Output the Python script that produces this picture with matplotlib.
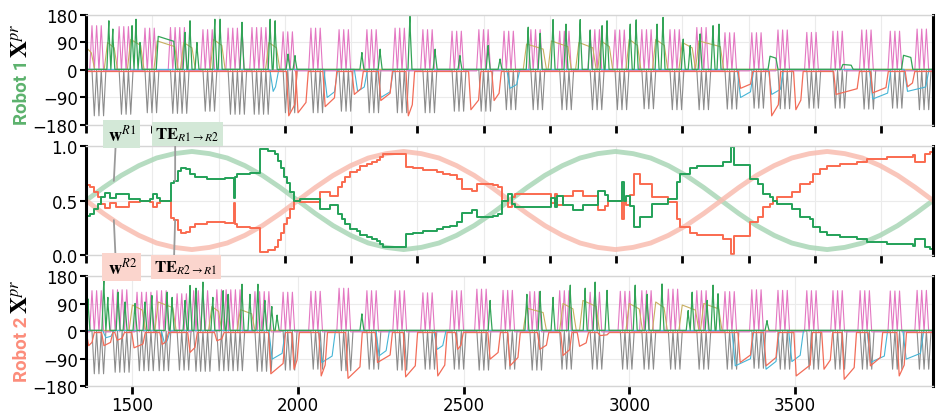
import numpy as np
import matplotlib
matplotlib.use('Agg')
import matplotlib.pyplot as plt

plt.rcParams['mathtext.fontset'] = 'stix'
plt.rcParams['font.family'] = ['DejaVu Sans']

X0, X1 = 1360, 3917
PK = 14  # spacing of the gait peaks inside one burst

# ---- Robot 1 (top panel) ----
r1_burst = [1378, 1460, 1538, 1615, 1713, 1789, 1861, 1955, 2039, 2124, 2208, 2293, 2377, 2465, 2546, 2622,
            2703, 2790, 2882, 2957, 3038, 3123, 3204, 3289, 3370, 3449, 3536, 3615, 3702, 3788, 3869]
r1_npk = [3, 3, 3, 4, 3, 4, 4, 3, 3, 3, 3, 3, 3, 3, 3, 3, 3, 3, 3, 3, 3, 3, 3, 3, 3, 3, 3, 3, 3, 3, 3]
r1_pink = [148, 145, 140, 142, 135, 140, 142, 128, 140, 135, 135, 140, 135, 130, 135, 130,
           135, 130, 135, 134, 135, 135, 142, 125, 125, 134, 126, 130, 134, 130, 137]
r1_grey = [150, 145, 140, 142, 135, 145, 145, 140, 140, 135, 140, 140, 140, 135, 135, 130,
           130, 130, 130, 130, 127, 130, 130, 128, 125, 127, 125, 125, 128, 125, 130]
r1_green_x0 = [1429, 1441, 1499, 1511, 1523, 1578, 1659, 1674, 1695, 1749, 1765, 1831, 1916, 1931, 1970, 1991,
               2193, 2248, 2338, 2414, 2489, 2574, 2610, 2695, 2731, 2770, 2809, 2852, 2882, 2918, 2933,
               3003, 3021, 3084, 3102, 3163, 3184, 3214, 3253, 3271, 3425, 3645, 3828]
r1_green_x1 = [1429, 1441, 1499, 1511, 1523, 1625, 1659, 1674, 1695, 1749, 1765, 1831, 1916, 1931, 1970, 1991,
               2193, 2248, 2338, 2414, 2489, 2574, 2610, 2695, 2731, 2770, 2809, 2852, 2882, 2918, 2933,
               3003, 3021, 3084, 3102, 3163, 3184, 3214, 3253, 3271, 3443, 3670, 3850]
r1_green_h = [161, 134, 145, 166, 90, 110, 123, 161, 90, 166, 166, 156, 166, 161, 52, 47,
              57, 68, 178, 68, 47, 80, 36, 140, 120, 165, 150, 165, 130, 145, 161,
              150, 164, 150, 172, 101, 80, 118, 145, 150, 45, 18, 48]
r1_tan_x0 = [1364, 1425, 1495, 1575, 1655, 1745, 1912, 2690, 2765, 2848, 2915, 3000, 3080, 3160, 3210]
r1_tan_x1 = [1376, 1445, 1525, 1628, 1680, 1770, 1935, 2740, 2815, 2890, 2940, 3025, 3106, 3190, 3275]
r1_tan_h = [70, 90, 100, 95, 90, 100, 90, 85, 95, 90, 95, 100, 100, 90, 95]
r1_red_x0 = [1972, 2000, 2082, 2170, 2250, 2333, 2522, 2592, 3336, 3430, 3503, 3624, 3735, 3840]
r1_red_x1 = [1990, 2024, 2110, 2190, 2278, 2345, 2545, 2607, 3366, 3450, 3518, 3688, 3775, 3855]
r1_red_d = [-150, -140, -120, -80, -100, -150, -130, -100, -60, -150, -130, -80, -75, -55]
r1_cyan_x0 = [1925, 2088, 2180, 2250, 2640, 3336, 3430, 3735, 3840]
r1_cyan_x1 = [1932, 2110, 2200, 2278, 2660, 3366, 3456, 3780, 3895]
r1_cyan_d = [-70, -90, -70, -90, -60, -90, -80, -95, -70]

# ---- Robot 2 (bottom panel) ----
r2_burst = [1378, 1441, 1514, 1574, 1635, 1685, 1755, 1870, 1955, 2039, 2124, 2208, 2293, 2377, 2465, 2540,
            2619, 2700, 2790, 2882, 2973, 3038, 3118, 3204, 3289, 3370, 3449, 3536, 3615, 3697, 3788, 3869]
r2_npk = [3, 4, 4, 3, 3, 4, 6, 4, 3, 3, 3, 3, 3, 3, 3, 3, 3, 3, 3, 3, 3, 3, 3, 3, 3, 3, 3, 3, 3, 3, 3, 3]
r2_pink = [135, 138, 130, 135, 125, 135, 138, 132, 130, 133, 143, 135, 135, 128, 135, 140,
           136, 132, 135, 130, 133, 135, 140, 135, 132, 138, 136, 135, 135, 135, 134, 136]
r2_grey = [140, 135, 130, 130, 128, 132, 130, 132, 128, 125, 130, 125, 128, 125, 125, 128,
           125, 128, 125, 125, 125, 125, 125, 125, 125, 122, 125, 125, 125, 125, 125, 125]
r2_green_x = [1366, 1414, 1426, 1457, 1478, 1508, 1538, 1559, 1605, 1620, 1659, 1674, 1692, 1713, 1743,
              1774, 1789, 1831, 1855, 1879, 1900, 1921, 1937, 2193, 2580, 2691, 2731, 2770, 2822, 2867,
              2897, 2933, 3018, 3054, 3099, 3178, 3190, 3235, 3253, 3268, 3416]
r2_green_h = [105, 171, 110, 127, 95, 90, 95, 116, 127, 110, 100, 149, 140, 160, 110,
              132, 120, 153, 120, 153, 100, 80, 52, 56, 100, 120, 130, 110, 150, 140,
              160, 133, 150, 120, 154, 67, 127, 100, 150, 122, 34]
r2_tan_x0 = [1500, 1578, 1740, 1826, 2690, 2800, 2860, 3000, 3080, 3160, 3225]
r2_tan_x1 = [1530, 1622, 1760, 1860, 2740, 2830, 2900, 3030, 3105, 3200, 3270]
r2_tan_h = [85, 95, 80, 70, 75, 90, 100, 90, 95, 85, 90]
r2_red_x0 = [1368, 1414, 1454, 1505, 1590, 1674, 1755, 1918, 1988, 2070, 2151, 2240, 2325, 2422, 2482, 2580,
             2640, 2730, 2800, 2850, 2912, 3335, 3413, 3504, 3588, 3649, 3728, 3815]
r2_red_x1 = [1378, 1434, 1469, 1532, 1602, 1689, 1770, 1955, 1997, 2082, 2187, 2278, 2354, 2443, 2492, 2604,
             2664, 2750, 2820, 2870, 2933, 3366, 3443, 3546, 3607, 3679, 3758, 3830]
r2_red_d = [-48, -48, -30, -55, -44, -70, -32, -140, -125, -147, -155, -103, -150, -147, -60, -92,
            -114, -60, -80, -50, -15, -103, -114, -147, -125, -158, -114, -147]
r2_cyan_x0 = [1420, 1597, 1922, 2072, 2245, 2420, 3320, 3413, 3491, 3728, 3836]
r2_cyan_x1 = [1435, 1605, 1952, 2103, 2266, 2437, 3366, 3443, 3516, 3770, 3879]
r2_cyan_d = [-22, -40, -92, -103, -81, -60, -114, -125, -100, -103, -92]

# ---- middle panel: weights (sampled) and transfer entropy steps ----
w_r1 = [0.50, 0.62, 0.73, 0.82, 0.89, 0.93, 0.95, 0.93, 0.89, 0.82, 0.73, 0.62, 0.50, 0.38, 0.27, 0.18, 0.11,
        0.07, 0.05, 0.07, 0.11, 0.18, 0.27, 0.38, 0.50, 0.62, 0.73, 0.82, 0.89, 0.93, 0.95, 0.93, 0.89, 0.82,
        0.73, 0.62, 0.50, 0.38, 0.27, 0.18, 0.11, 0.07, 0.05, 0.07, 0.11, 0.18, 0.27, 0.38, 0.50]
w_r2 = [0.50, 0.38, 0.27, 0.18, 0.11, 0.07, 0.05, 0.07, 0.11, 0.18, 0.27, 0.38, 0.50, 0.62, 0.73, 0.82, 0.89,
        0.93, 0.95, 0.93, 0.89, 0.82, 0.73, 0.62, 0.50, 0.38, 0.27, 0.18, 0.11, 0.07, 0.05, 0.07, 0.11, 0.18,
        0.27, 0.38, 0.50, 0.62, 0.73, 0.82, 0.89, 0.93, 0.95, 0.93, 0.89, 0.82, 0.73, 0.62, 0.50]
te_x = [1360, 1372, 1384, 1396, 1405, 1417, 1432, 1451, 1490, 1523, 1553, 1562, 1574, 1583, 1617, 1626, 1638,
        1647, 1662, 1674, 1689, 1725, 1746, 1780, 1807, 1810, 1816, 1855, 1885, 1909, 1931, 1940, 1949, 1958,
        1967, 1976, 1988, 2006, 2067, 2097, 2121, 2133, 2142, 2157, 2178, 2187, 2209, 2224, 2239, 2248, 2257,
        2326, 2347, 2377, 2419, 2438, 2459, 2480, 2495, 2526, 2540, 2589, 2604, 2616, 2634, 2646, 2655, 2752,
        2764, 2776, 2782, 2800, 2830, 2861, 2906, 2927, 2936, 2973, 2979, 2985, 2991, 3003, 3015, 3033, 3069,
        3118, 3145, 3154, 3184, 3205, 3284, 3308, 3317, 3365, 3389, 3404, 3425, 3434, 3446, 3491, 3516, 3546,
        3555, 3577, 3598, 3637, 3688, 3718, 3779, 3857, 3863, 3887, 3893, 3908]
te_r1r2 = [0.36, 0.38, 0.42, 0.47, 0.53, 0.57, 0.52, 0.56, 0.51, 0.50, 0.51, 0.56, 0.52, 0.50, 0.66, 0.68, 0.77,
           0.80, 0.79, 0.74, 0.72, 0.70, 0.70, 0.71, 0.52, 0.72, 0.74, 0.75, 0.97, 0.95, 0.93, 0.86, 0.80, 0.72,
           0.66, 0.58, 0.50, 0.51, 0.42, 0.46, 0.38, 0.33, 0.28, 0.24, 0.22, 0.18, 0.165, 0.15, 0.13, 0.10, 0.07,
           0.19, 0.20, 0.22, 0.24, 0.26, 0.27, 0.30, 0.39, 0.41, 0.345, 0.36, 0.38, 0.50, 0.56, 0.47, 0.44, 0.44,
           0.52, 0.44, 0.54, 0.46, 0.41, 0.46, 0.59, 0.55, 0.50, 0.50, 0.67, 0.50, 0.54, 0.45, 0.26, 0.345, 0.47,
           0.51, 0.67, 0.74, 0.80, 0.82, 0.85, 0.99, 0.83, 0.70, 0.65, 0.56, 0.53, 0.50, 0.47, 0.42, 0.345, 0.33,
           0.26, 0.21, 0.18, 0.165, 0.147, 0.12, 0.10, 0.08, 0.15, 0.15, 0.07, 0.055]
te_r2r1 = [0.64, 0.62, 0.58, 0.53, 0.47, 0.43, 0.48, 0.44, 0.49, 0.50, 0.49, 0.44, 0.48, 0.50, 0.34, 0.32, 0.23,
           0.20, 0.21, 0.26, 0.28, 0.30, 0.30, 0.29, 0.48, 0.28, 0.26, 0.25, 0.03, 0.05, 0.07, 0.14, 0.20, 0.28,
           0.34, 0.42, 0.50, 0.49, 0.58, 0.54, 0.62, 0.67, 0.72, 0.76, 0.78, 0.82, 0.835, 0.85, 0.87, 0.90, 0.93,
           0.81, 0.80, 0.78, 0.76, 0.74, 0.73, 0.70, 0.61, 0.59, 0.655, 0.64, 0.62, 0.50, 0.44, 0.53, 0.56, 0.56,
           0.48, 0.56, 0.46, 0.54, 0.59, 0.54, 0.41, 0.45, 0.50, 0.50, 0.33, 0.50, 0.46, 0.55, 0.74, 0.655, 0.53,
           0.49, 0.33, 0.26, 0.20, 0.18, 0.15, 0.01, 0.17, 0.30, 0.35, 0.44, 0.47, 0.50, 0.53, 0.58, 0.655, 0.67,
           0.74, 0.79, 0.82, 0.835, 0.853, 0.88, 0.90, 0.92, 0.85, 0.85, 0.93, 0.945]

C_PINK, C_GREY, C_GREEN = '#e377c2', '#8c8c8c', '#33a457'
C_TAN, C_CYAN, C_RED = '#c8ae5e', '#45b5d6', '#f26c58'
C_TE_G, C_TE_R = '#23a158', '#fa6a4f'
C_R1, C_R2 = '#5cb26d', '#fc8d7b'


def osc_line(starts, npk, amp, sign, phase, base=0.0):
    xs, ys = [X0], [base]
    for s, n, a in zip(starts, npk, amp):
        for k in range(n):
            c = s + phase + PK * k
            xs += [c - PK / 2, c, c + PK / 2]
            ys += [base, base + sign * a, base]
    xs.append(X1)
    ys.append(base)
    return xs, ys


def bump_line(x0s, x1s, hs, base, ramp=6, sag=1.0):
    # a bump rises over `ramp`, holds (sagging a little) and falls back to base
    xs, ys = [X0], [base]
    for a, b, h in zip(x0s, x1s, hs):
        xs += [a - ramp, a, b, b + ramp]
        ys += [base, h, base + (h - base) * sag, base]
    xs.append(X1)
    ys.append(base)
    return xs, ys


def style(ax, xt, xlab):
    ax.set_xlim(X0, X1)
    for s in ['left', 'right']:
        ax.spines[s].set_linewidth(2.2)
        ax.spines[s].set_color('black')
    for s in ['top', 'bottom']:
        ax.spines[s].set_linewidth(1.0)
        ax.spines[s].set_color('#d5d5d5')
    ax.set_axisbelow(True)
    ax.grid(True, color='#ebebeb', lw=0.8)
    ax.set_xticks(xt)
    if not xlab:
        ax.set_xticklabels([])
    ax.tick_params(axis='x', direction='out', length=6, width=2, labelsize=12, pad=1)
    ax.tick_params(axis='y', direction='out', length=4, width=1.5, labelsize=12, pad=2)


def joint_panel(ax, burst, npk, pink, grey, g, tan, red, cyan):
    ax.plot(*osc_line(burst, npk, grey, -1, PK / 2), color=C_GREY, lw=0.8)
    ax.plot(*osc_line(burst, npk, pink, 1, 0, -3), color=C_PINK, lw=0.8)
    ax.plot(*bump_line(*tan, 2, ramp=10, sag=0.8), color=C_TAN, lw=0.8)
    ax.plot(*bump_line(*cyan, 2, ramp=10, sag=0.8), color=C_CYAN, lw=0.8)
    ax.plot(*bump_line(*red, -5, ramp=7, sag=0.75), color=C_RED, lw=0.9)
    ax.plot(*bump_line(*g, 2, ramp=6, sag=0.85), color=C_GREEN, lw=0.9)
    ax.set_ylim(-180, 180)
    ax.set_yticks([-180, -90, 0, 90, 180])


def ylab(ax, name, color, ya):
    ax.text(-0.0756, ya, name, transform=ax.transAxes, rotation=90, rotation_mode='anchor',
            ha='right', va='center', color=color, fontsize=13.5, fontweight='bold', family='Roboto')
    ax.text(-0.0756, ya + 0.02, r'$\mathbf{X}^{pr}$', transform=ax.transAxes, rotation=90,
            rotation_mode='anchor', ha='left', va='center', color='black', fontsize=17)


fig = plt.figure(figsize=(9.36, 4.14), dpi=100)
ax1 = fig.add_axes([0.0919, 0.6957, 0.9049, 0.2657])
ax2 = fig.add_axes([0.0919, 0.3816, 0.9049, 0.2633])
ax3 = fig.add_axes([0.0919, 0.0652, 0.9049, 0.2657])
ax2.set_zorder(5)

top_ticks = np.arange(X0, X1, 200)
joint_panel(ax1, r1_burst, r1_npk, r1_pink, r1_grey,
            (r1_green_x0, r1_green_x1, r1_green_h),
            (r1_tan_x0, r1_tan_x1, r1_tan_h),
            (r1_red_x0, r1_red_x1, r1_red_d),
            (r1_cyan_x0, r1_cyan_x1, r1_cyan_d))
style(ax1, top_ticks, False)
ylab(ax1, 'Robot 1', C_R1, 0.60)

joint_panel(ax3, r2_burst, r2_npk, r2_pink, r2_grey,
            (r2_green_x, r2_green_x, r2_green_h),
            (r2_tan_x0, r2_tan_x1, r2_tan_h),
            (r2_red_x0, r2_red_x1, r2_red_d),
            (r2_cyan_x0, r2_cyan_x1, r2_cyan_d))
style(ax3, [1500, 2000, 2500, 3000, 3500], True)
ylab(ax3, 'Robot 2', C_R2, 0.64)

# middle panel
wt = np.linspace(X0, X1, len(w_r1))
ax2.plot(wt, w_r1, color='#a9d6b6', lw=3.5, alpha=0.85, solid_capstyle='butt')
ax2.plot(wt, w_r2, color='#f9bcb0', lw=3.5, alpha=0.85, solid_capstyle='butt')
tx = np.append(te_x, X1)
ax2.step(tx, np.append(te_r2r1, te_r2r1[-1]), where='post', color=C_TE_R, lw=1.4)
ax2.step(tx, np.append(te_r1r2, te_r1r2[-1]), where='post', color=C_TE_G, lw=1.4)
ax2.set_ylim(0, 1)
ax2.set_yticks([0, 0.5, 1.0])
ax2.set_yticklabels(['0.0', '0.5', '1.0'])
style(ax2, top_ticks, False)

ann = dict(ha='center', va='center', annotation_clip=False, zorder=10)
line = dict(arrowstyle='-', color='#9a9a9a', lw=1.3, shrinkA=0, shrinkB=0)
box_g = dict(boxstyle='square,pad=0.2', fc='#d3e8d7', ec='none')
box_r = dict(boxstyle='square,pad=0.2', fc='#fbd5cd', ec='none')
ax2.annotate(r'$\,\mathbf{w}^{R1}\,$', xy=(1444, 0.68), xytext=(1467, 1.11),
             textcoords=('data', 'axes fraction'), bbox=box_g, fontsize=13,
             arrowprops=dict(relpos=(0.31, 0), **line), **ann)
ax2.annotate(r'$\mathbf{TE}_{R1\rightarrow R2}$', xy=(1629, 0.68), xytext=(1666, 1.11),
             textcoords=('data', 'axes fraction'), bbox=box_g, fontsize=12,
             arrowprops=dict(relpos=(0.31, 0), **line), **ann)
ax2.annotate(r'$\,\mathbf{w}^{R2}\,$', xy=(1444, 0.32), xytext=(1467, -0.11),
             textcoords=('data', 'axes fraction'), bbox=box_r, fontsize=13,
             arrowprops=dict(relpos=(0.31, 1), **line), **ann)
ax2.annotate(r'$\mathbf{TE}_{R2\rightarrow R1}$', xy=(1629, 0.32), xytext=(1662, -0.11),
             textcoords=('data', 'axes fraction'), bbox=box_r, fontsize=12,
             arrowprops=dict(relpos=(0.31, 1), **line), **ann)

fig.savefig('out.png', dpi=100)
